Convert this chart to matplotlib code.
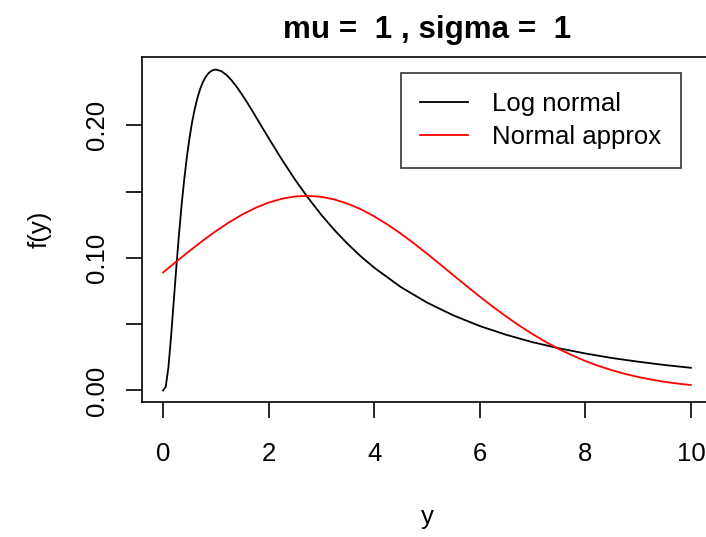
import matplotlib
matplotlib.use("Agg")
import matplotlib.pyplot as plt

plt.rcParams["font.family"] = ["Liberation Sans", "DejaVu Sans"]

# values (mu = 1, sigma = 1)
y_log = [0.0, 0.05, 0.1, 0.15, 0.2, 0.25, 0.3, 0.35, 0.4, 0.45, 0.5, 0.55,
         0.6, 0.65, 0.7, 0.75, 0.8, 0.85, 0.9, 0.95, 1.0, 1.1, 1.2, 1.3, 1.4,
         1.5, 1.6, 1.7, 1.8, 1.9, 2.0, 2.25, 2.5, 2.75, 3.0, 3.25, 3.5, 3.75,
         4.0, 4.5, 5.0, 5.5, 6.0, 6.5, 7.0, 7.5, 8.0, 8.5, 9.0, 9.5, 10.0]
f_log = [0.0, 0.0027, 0.0171, 0.0400, 0.0663, 0.0926, 0.1172, 0.1395,
         0.1590, 0.1759, 0.1903, 0.2024, 0.2124, 0.2205, 0.2271, 0.2322,
         0.2360, 0.2388, 0.2406, 0.2417, 0.2420, 0.2409, 0.2380, 0.2338,
         0.2287, 0.2229, 0.2167, 0.2102, 0.2036, 0.1969, 0.1903, 0.1742,
         0.1590, 0.1451, 0.1323, 0.1208, 0.1104, 0.1010, 0.0926, 0.0781,
         0.0663, 0.0566, 0.0486, 0.0420, 0.0364, 0.0318, 0.0279, 0.0245,
         0.0217, 0.0192, 0.0171]

y_norm = [0.0, 0.25, 0.5, 0.75, 1.0, 1.25, 1.5, 1.75, 2.0, 2.25, 2.5, 2.75,
          3.0, 3.25, 3.5, 3.75, 4.0, 4.25, 4.5, 4.75, 5.0, 5.25, 5.5, 5.75,
          6.0, 6.25, 6.5, 6.75, 7.0, 7.25, 7.5, 7.75, 8.0, 8.25, 8.5, 8.75,
          9.0, 9.25, 9.5, 9.75, 10.0]
f_norm = [0.0890, 0.0972, 0.1052, 0.1129, 0.1202, 0.1268, 0.1327, 0.1377,
          0.1417, 0.1446, 0.1463, 0.1468, 0.1460, 0.1440, 0.1408, 0.1366,
          0.1313, 0.1252, 0.1184, 0.1110, 0.1032, 0.0951, 0.0869, 0.0788,
          0.0708, 0.0631, 0.0558, 0.0489, 0.0425, 0.0366, 0.0312, 0.0265,
          0.0222, 0.0185, 0.0153, 0.0125, 0.0102, 0.0082, 0.0065, 0.0052,
          0.0041]

xticks = [0, 2, 4, 6, 8, 10]
yticks = [0.00, 0.05, 0.10, 0.15, 0.20]
ytick_labels = ["0.00", "", "0.10", "", "0.20"]

fig = plt.figure(figsize=(7.06, 5.37), dpi=100)
# right edge of the box falls just outside the canvas, as in the original
ax = fig.add_axes([0.2011, 0.2514, 0.8074, 0.6425])

ax.plot(y_log, f_log, color="black", lw=1.3, label="Log normal")
ax.plot(y_norm, f_norm, color="red", lw=1.3, label="Normal approx")

ax.set_xlim(-0.4, 10.4)
ax.set_ylim(-0.0087, 0.2515)
for s in ax.spines.values():
    s.set_linewidth(1.2)

ax.set_xticks(xticks)
ax.set_xticklabels([str(t) for t in xticks])
ax.set_yticks(yticks)
ax.set_yticklabels(ytick_labels, rotation=90, va="center")
ax.tick_params(axis="both", direction="out", length=11.5, width=1.2,
               labelsize=18.5)
ax.tick_params(axis="x", pad=17)
ax.tick_params(axis="y", pad=12)

ax.set_xlabel("y", fontsize=18.5, labelpad=28.5)
ax.set_ylabel("f(y)", fontsize=18.5, labelpad=24)
ax.set_title("mu =  1 , sigma =  1", fontsize=22.6, fontweight="bold", pad=14)

leg = ax.legend(loc="upper left", bbox_to_anchor=(401 / 706, 1 - 73 / 537),
                bbox_transform=fig.transFigure, fontsize=18.5, frameon=True,
                fancybox=False, edgecolor="black", handlelength=1.87,
                handletextpad=0.93, borderpad=0.75, labelspacing=0.33,
                borderaxespad=0)
leg.get_frame().set_linewidth(1.2)

fig.savefig("out.png", dpi=100)
